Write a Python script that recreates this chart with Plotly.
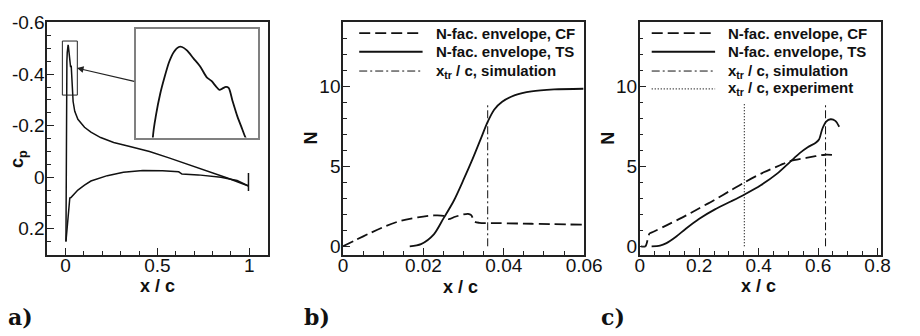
import plotly.graph_objects as go

# ---------------- data ----------------
# panel a: pressure distribution
cp_upper_x = [0.002, 0.003, 0.0042, 0.0057, 0.0072, 0.0090, 0.0107, 0.0125, 0.0137, 0.0155, 0.0179,
              0.0203, 0.0227, 0.0245, 0.0260, 0.0274, 0.0286, 0.0298, 0.0308, 0.0322, 0.0340, 0.0358,
              0.0370, 0.041, 0.050, 0.067, 0.103, 0.138, 0.191, 0.262, 0.350, 0.457, 0.563, 0.669,
              0.775, 0.881, 0.996]
cp_upper = [0.25, -0.330, -0.377, -0.419, -0.451, -0.484, -0.504, -0.514, -0.514, -0.507, -0.491,
            -0.475, -0.453, -0.445, -0.435, -0.427, -0.430, -0.433, -0.431, -0.405, -0.373, -0.347,
            -0.330, -0.294, -0.256, -0.225, -0.194, -0.175, -0.154, -0.135, -0.119, -0.100, -0.075,
            -0.050, -0.025, 0.003, 0.034]
cp_lower_x = [0.002, 0.023, 0.029, 0.067, 0.103, 0.138, 0.227, 0.315, 0.421, 0.528, 0.616, 0.634,
              0.722, 0.846, 0.934, 0.996]
cp_lower = [0.25, 0.081, 0.079, 0.050, 0.031, 0.015, -0.006, -0.019, -0.026, -0.025, -0.021, -0.012,
            -0.009, 0.0, 0.013, 0.034]
te_x = [0.996, 0.996]
te_cp = [-0.016, 0.054]
a_xticks = [0, 0.5, 1]
a_xticklabels = ["0", "0.5", "1"]
a_yticks = [-0.6, -0.4, -0.2, 0, 0.2]
a_yticklabels = ["-0.6", "-0.4", "-0.2", "0", "0.2"]

# panel b: N-factor envelopes
cf_b_x = [0, 0.0032, 0.0065, 0.0105, 0.0145, 0.0186, 0.0226, 0.0250, 0.0262, 0.0279, 0.0299,
          0.0311, 0.0319, 0.0327, 0.0339, 0.0388, 0.0469, 0.0598]
cf_b = [0, 0.40, 0.80, 1.25, 1.61, 1.81, 1.93, 1.90, 1.70, 1.85, 1.99, 2.03, 1.95, 1.55, 1.47,
        1.45, 1.41, 1.35]
ts_b_x = [0.0166, 0.0194, 0.0226, 0.0250, 0.0275, 0.0299, 0.0323, 0.0343, 0.0359, 0.0376, 0.0396,
          0.0428, 0.0469, 0.0525, 0.0598]
ts_b = [0, 0.14, 0.75, 1.75, 2.82, 4.12, 5.50, 6.74, 7.74, 8.55, 9.05, 9.46, 9.70, 9.82, 9.86]
xtr_sim_b = 0.036

# panel c
cf_c_x = [0.004, 0.019, 0.033, 0.046, 0.090, 0.144, 0.199, 0.253, 0.308, 0.354, 0.417, 0.472,
          0.505, 0.560, 0.625, 0.660]
cf_c = [0, 0, 0.80, 0.91, 1.31, 1.81, 2.37, 2.92, 3.52, 4.02, 4.63, 5.07, 5.33, 5.53, 5.73, 5.69]
ts_c_x = [0.040, 0.068, 0.090, 0.122, 0.155, 0.199, 0.253, 0.308, 0.354, 0.407, 0.461, 0.505,
          0.538, 0.565, 0.592, 0.603, 0.614, 0.627, 0.642, 0.658, 0.671]
ts_c = [0, 0.04, 0.20, 0.60, 1.10, 1.71, 2.31, 2.82, 3.26, 3.82, 4.53, 5.27, 5.83, 6.20, 6.48,
        6.68, 7.34, 7.80, 7.95, 7.85, 7.48]
xtr_sim_c = 0.625
xtr_exp_c = 0.352
xtr_line_n = [0, 9]

b_xticks = [0, 0.02, 0.04, 0.06]
b_xticklabels = ["0", "0.02", "0.04", "0.06"]
c_xticks = [0, 0.2, 0.4, 0.6, 0.8]
c_xticklabels = ["0", "0.2", "0.4", "0.6", "0.8"]
n_yticks = [0, 5, 10]
n_yticklabels = ["0", "5", "10"]

legend_b = ["N-fac. envelope, CF", "N-fac. envelope, TS", "x<sub>tr</sub> / c, simulation"]
legend_c = ["N-fac. envelope, CF", "N-fac. envelope, TS", "x<sub>tr</sub> / c, simulation",
            "x<sub>tr</sub> / c, experiment"]

# ---------------- figure ----------------
W, H = 920, 336
def PX(x):
    return x / W
def PY(y):
    return 1 - y / H

FONT = "Liberation Sans, Arial, sans-serif"
INK = "#111111"
DASH_CF = "11px,5px"
DASH_DD = "8px,3px,2px,3px"
DASH_DOT = "1px,2px"

fig = go.Figure()

def line(x, y, xa, ya, width=1.6, dash="solid", shape="linear"):
    fig.add_trace(go.Scatter(x=x, y=y, xaxis=xa, yaxis=ya, mode="lines",
                             line=dict(color=INK, width=width, dash=dash, shape=shape,
                                       smoothing=0.8 if shape == "spline" else None),
                             hoverinfo="skip", showlegend=False))

# panel a
line(cp_upper_x, cp_upper, "x", "y", 1.5)
line(cp_lower_x, cp_lower, "x", "y", 1.5)
line(te_x, te_cp, "x", "y", 1.5)
# inset (same data, zoomed)
line(cp_upper_x, cp_upper, "x4", "y4", 1.8, shape="spline")

# panel b
line(cf_b_x, cf_b, "x2", "y2", 1.8, DASH_CF, "spline")
line(ts_b_x, ts_b, "x2", "y2", 1.8, "solid", "spline")
line([xtr_sim_b, xtr_sim_b], xtr_line_n, "x2", "y2", 1.0, DASH_DD)

# panel c
line(cf_c_x, cf_c, "x3", "y3", 1.8, DASH_CF, "spline")
line(ts_c_x, ts_c, "x3", "y3", 1.8, "solid", "spline")
line([xtr_sim_c, xtr_sim_c], xtr_line_n, "x3", "y3", 1.0, DASH_DD)
line([xtr_exp_c, xtr_exp_c], xtr_line_n, "x3", "y3", 1.2, DASH_DOT)

y_dom = [PY(254), PY(12.7)]

def ax(domain, rng, tickvals, ticktext, minor_dtick, anchor, standoff):
    return dict(domain=domain, range=rng, anchor=anchor,
                showline=True, linecolor="#222", linewidth=1.5, mirror=True,
                ticks="inside", ticklen=7, tickwidth=1.2, tickcolor="#222",
                tickmode="array", tickvals=tickvals, ticktext=ticktext,
                ticklabelstandoff=standoff,
                minor=dict(tickmode="linear", tick0=0, dtick=minor_dtick, ticks="inside",
                           ticklen=4, tickwidth=1, tickcolor="#222", showgrid=False),
                showgrid=False, zeroline=False,
                tickfont=dict(family=FONT, size=19, color=INK))

XSO = -7
YSO = -3
layout = dict(
    width=W, height=H, margin=dict(l=0, r=0, t=0, b=0),
    paper_bgcolor="white", plot_bgcolor="white", showlegend=False,
    xaxis=ax([PX(43.3), PX(269.3)], [-0.1, 1.1], a_xticks, a_xticklabels, 0.1, "y", XSO),
    yaxis=ax(y_dom, [0.302, -0.602], a_yticks, a_yticklabels, 0.05, "x", YSO),
    xaxis2=ax([PX(346.7), PX(594)], [0, 0.06], b_xticks, b_xticklabels, 0.005, "y2", XSO),
    yaxis2=ax(y_dom, [-0.54, 14.02], n_yticks, n_yticklabels, 1, "x2", YSO),
    xaxis3=ax([PX(651), PX(898.3)], [0, 0.811], c_xticks, c_xticklabels, 0.05, "y3", XSO),
    yaxis3=ax(y_dom, [-0.54, 14.02], n_yticks, n_yticklabels, 1, "x3", YSO),
    xaxis4=dict(domain=[PX(134.3), PX(259.3)], range=[-0.0032, 0.0415], anchor="y4",
                showline=True, mirror=True, linecolor="#808080", linewidth=2,
                ticks="", showticklabels=False, showgrid=False, zeroline=False),
    yaxis4=dict(domain=[PY(132.3), PY(20)], range=[-0.33, -0.55], anchor="x4",
                showline=True, mirror=True, linecolor="#808080", linewidth=2,
                ticks="", showticklabels=False, showgrid=False, zeroline=False),
)
fig.update_layout(**layout)

shapes = []
annotations = []

# small box and arrow in panel a
shapes.append(dict(type="rect", xref="x", yref="y", x0=-0.0175, x1=0.064, y0=-0.529, y1=-0.319,
                   line=dict(color="#222", width=1)))
annotations.append(dict(xref="x", yref="y", axref="x", ayref="y", x=0.062, y=-0.424,
                        ax=0.382, ay=-0.371, text="", showarrow=True, arrowhead=2,
                        arrowsize=1.2, arrowwidth=1.1, arrowcolor="#222"))

# legends (drawn manually)
def legend(x_line0, x_line1, x_text, rows, styles):
    for (label, y), (dash, width) in zip(zip(*rows), styles):
        shapes.append(dict(type="line", xref="paper", yref="paper", x0=PX(x_line0), x1=PX(x_line1),
                           y0=PY(y), y1=PY(y), line=dict(color=INK, width=width, dash=dash)))
        annotations.append(dict(xref="paper", yref="paper", x=PX(x_text), y=PY(y),
                                xanchor="left", yanchor="middle", showarrow=False,
                                text="<b>" + label + "</b>",
                                font=dict(family=FONT, size=15, color=INK)))

legend(363.3, 428.3, 440.5, (legend_b, [24, 43.3, 63.3]),
       [(DASH_CF, 1.8), ("solid", 1.8), (DASH_DD, 1.0)])
legend(663.3, 728.3, 739.5, (legend_c, [24, 43.3, 63.3, 81.7]),
       [(DASH_CF, 1.8), ("solid", 1.8), (DASH_DD, 1.0), (DASH_DOT, 1.2)])

# axis titles
def title(text, x, y, angle=0):
    annotations.append(dict(xref="paper", yref="paper", x=PX(x), y=PY(y), text=text,
                            textangle=angle, showarrow=False, xanchor="center", yanchor="middle",
                            font=dict(family=FONT, size=18, color=INK)))

title("<b>x / c</b>", 156, 286)
title("<b>x / c</b>", 467, 287)
title("<b>x / c</b>", 773, 286)
title("<b>c<sub>p</sub></b>", 14, 155, -90)
title("<b>N</b>", 314, 133, -90)
title("<b>N</b>", 619, 133, -90)

# panel labels
for lab, x in [("a)", 1), ("b)", 305), ("c)", 609)]:
    annotations.append(dict(xref="paper", yref="paper", x=PX(x), y=PY(318), text="<b>" + lab + "</b>",
                            showarrow=False, xanchor="left", yanchor="middle",
                            font=dict(family="DejaVu Serif, serif", size=22, color=INK)))

fig.update_layout(shapes=shapes, annotations=annotations)
fig.write_html("out.html", config={"displayModeBar": False},
               post_script="document.body.style.margin='0px';document.body.style.padding='0px';")
